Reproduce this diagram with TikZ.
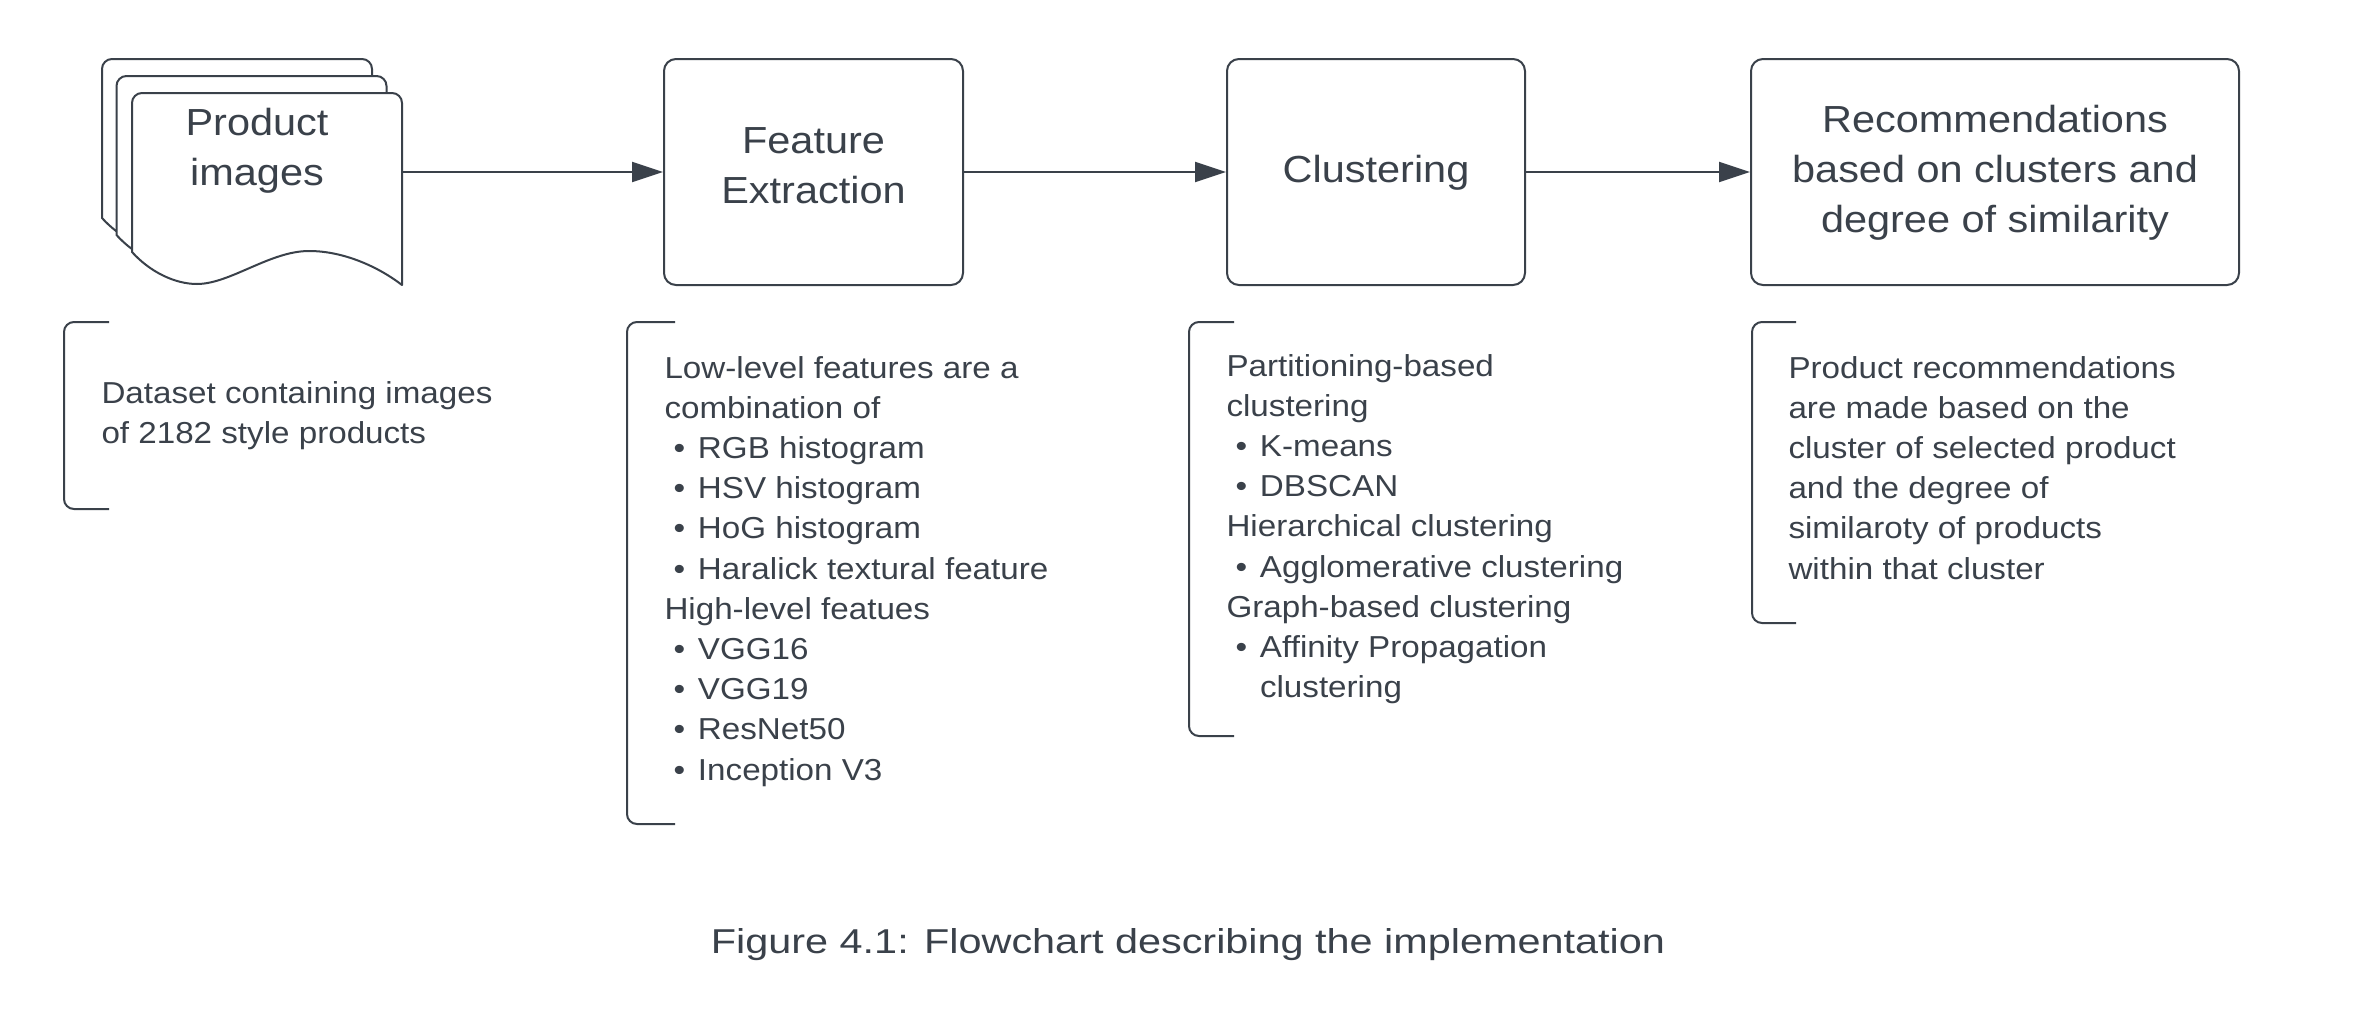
\documentclass[tikz,border=0pt]{standalone}
\usepackage{fontspec}
\setmainfont{Liberation Sans}
\newfontfamily\bodyfont{Liberation Sans}[FakeStretch=1.095]
\newfontfamily\boxfont{Liberation Sans}[FakeStretch=1.1]
\newfontfamily\capfont{Liberation Sans}[FakeStretch=1.2]
\usetikzlibrary{arrows.meta}
\definecolor{ink}{HTML}{3A414A}
\newcommand{\bul}[1]{\hspace*{9pt}\makebox[24.5pt][l]{•}#1}
\newcommand{\cont}[1]{\hspace*{33.5pt}#1}
\begin{document}
\begin{tikzpicture}[x=1pt,y=-1pt,color=ink,line width=2pt,
  box/.style={draw, rounded corners=12pt, fill=white, inner sep=0pt, minimum height=226pt},
  boxtext/.style={font=\boxfont\fontsize{37.7}{50}\selectfont, inner sep=0pt, anchor=base},
  bodytext/.style={font=\bodyfont\fontsize{30.3}{40.2}\selectfont, inner sep=0pt, anchor=base west},
  captext/.style={font=\capfont\fontsize{34.5}{40}\selectfont, inner sep=0pt, anchor=base},
  arrow/.style={-{Triangle[length=31pt,width=20pt]}},
  bracket/.style={rounded corners=10pt},
  docshape/.style={draw, fill=white, line join=round}]
\useasboundingbox (0,0) rectangle (2359,1020);
\fill[white] (0,0) rectangle (2359,1020);

% stacked documents
\foreach \dx/\dy in {-30/-34, -15.5/-17, 0/0} {
  \draw[docshape, shift={(\dx,\dy)}] (132,252) [rounded corners=10pt] -- (132,93) -- (402,93) -- (402,200) [sharp corners] -- (402,285)
    .. controls (380,268) and (345,251) .. (309,251)
    .. controls (270,251) and (230,284) .. (197,284)
    .. controls (175,284) and (150,272) .. (132,252) -- cycle;
}
\coordinate (docR) at (402,172);
\node[boxtext] (prod) at (257,135) {\begin{tabular}[t]{@{}c@{}}Product\\images\end{tabular}};

% process boxes
\node[box, minimum width=299pt] (fe) at (813.5,172) {};
\node[box, minimum width=298pt] (cl) at (1376,172) {};
\node[box, minimum width=488pt] (rec) at (1995,172) {};
\node[boxtext] (fe-t) at (813.5,153) {\begin{tabular}[t]{@{}c@{}}Feature\\Extraction\end{tabular}};
\node[boxtext] (cl-t) at (1376,182) {Clustering};
\node[boxtext] (rec-t) at (1995,132) {\begin{tabular}[t]{@{}c@{}}Recommendations\\based on clusters and\\degree of similarity\end{tabular}};

% connectors
\draw[arrow] (docR) -- (fe.west);
\draw[arrow] (fe.east) -- (cl.west);
\draw[arrow] (cl.east) -- (rec.west);

% brackets
\draw[bracket] (109,322) -- (64,322) -- (64,509) -- (109,509);
\draw[bracket] (675,322) -- (627,322) -- (627,824) -- (675,824);
\draw[bracket] (1234,322) -- (1189,322) -- (1189,736) -- (1234,736);
\draw[bracket] (1796,322) -- (1752,322) -- (1752,623) -- (1796,623);

% descriptions
\node[bodytext] (ds-t) at (100.5,403) {\begin{tabular}[t]{@{}l@{}}Dataset containing images\\of 2182 style products\end{tabular}};
\node[bodytext] (fe-d) at (663.5,378) {\begin{tabular}[t]{@{}l@{}}Low-level features are a\\combination of\\
\bul{RGB histogram}\\\bul{HSV histogram}\\\bul{HoG histogram}\\\bul{Haralick textural feature}\\
High-level featues\\\bul{VGG16}\\\bul{VGG19}\\\bul{ResNet50}\\\bul{Inception V3}\end{tabular}};
\node[bodytext] (cl-d) at (1225.5,376) {\begin{tabular}[t]{@{}l@{}}Partitioning-based\\clustering\\
\bul{K-means}\\\bul{DBSCAN}\\Hierarchical clustering\\\bul{Agglomerative clustering}\\
Graph-based clustering\\\bul{Affinity Propagation}\\\cont{clustering}\end{tabular}};
\node[bodytext] (rec-d) at (1787.5,378) {\begin{tabular}[t]{@{}l@{}}Product recommendations\\are made based on the\\cluster of selected product\\and the degree of\\similaroty of products\\within that cluster\end{tabular}};

% caption
\node[captext] (cap) at (1188,953) {Figure 4.1: Flowchart describing the implementation};
\end{tikzpicture}
\end{document}
